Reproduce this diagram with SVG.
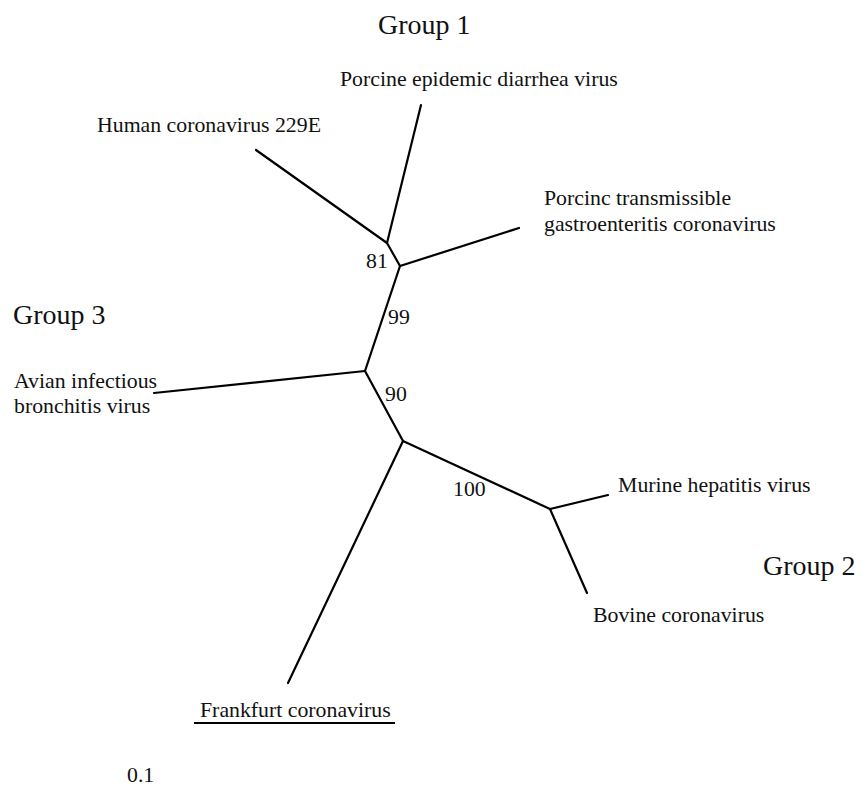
<svg xmlns="http://www.w3.org/2000/svg" width="865" height="790" viewBox="0 0 865 790">
<style>
.t{font-family:"Liberation Serif","Times New Roman",serif;font-size:21.8px;fill:#111}
.g{font-family:"Liberation Serif","Times New Roman",serif;font-size:28px;fill:#111}
.b{stroke:#000;stroke-width:2.2;fill:none;stroke-linecap:round;stroke-linejoin:round}
</style>
<rect width="865" height="790" fill="#fff"/>
<g id="connectors">
<line class="b" x1="256" y1="150" x2="387" y2="243"/>
<line class="b" x1="421" y1="105" x2="387" y2="243"/>
<line class="b" x1="387" y1="243" x2="400" y2="266"/>
<line class="b" x1="400" y1="266" x2="519" y2="228"/>
<line class="b" x1="400" y1="266" x2="365" y2="371"/>
<line class="b" x1="365" y1="371" x2="154" y2="393"/>
<line class="b" x1="365" y1="371" x2="403" y2="441"/>
<line class="b" x1="403" y1="441" x2="288" y2="683"/>
<line class="b" x1="403" y1="441" x2="550" y2="509"/>
<line class="b" x1="550" y1="509" x2="608" y2="495"/>
<line class="b" x1="550" y1="509" x2="587" y2="593"/>
</g>
<g id="group1"><text class="g" x="378" y="34">Group 1</text></g>
<g id="group2"><text class="g" x="763" y="575">Group 2</text></g>
<g id="group3"><text class="g" x="13" y="324">Group 3</text></g>
<g id="ped"><text class="t" x="340" y="86">Porcine epidemic diarrhea virus</text></g>
<g id="hcov229e"><text class="t" x="97" y="132">Human coronavirus 229E</text></g>
<g id="tgev"><text class="t" x="544" y="205">Porcinc transmissible</text><text class="t" x="544" y="231">gastroenteritis coronavirus</text></g>
<g id="ibv"><text class="t" x="14" y="388">Avian infectious</text><text class="t" x="14" y="413">bronchitis virus</text></g>
<g id="mhv"><text class="t" x="618" y="492">Murine hepatitis virus</text></g>
<g id="bcov"><text class="t" x="593" y="622">Bovine coronavirus</text></g>
<g id="frankfurt"><text class="t" x="200" y="717">Frankfurt coronavirus</text><line x1="194" y1="723" x2="395" y2="723" stroke="#000" stroke-width="2"/></g>
<g id="bootstrap">
<text class="t" x="366" y="268">81</text>
<text class="t" x="388" y="324">99</text>
<text class="t" x="385" y="401">90</text>
<text class="t" x="453" y="496">100</text>
</g>
<g id="scale"><text class="t" x="127" y="782">0.1</text></g>
</svg>
